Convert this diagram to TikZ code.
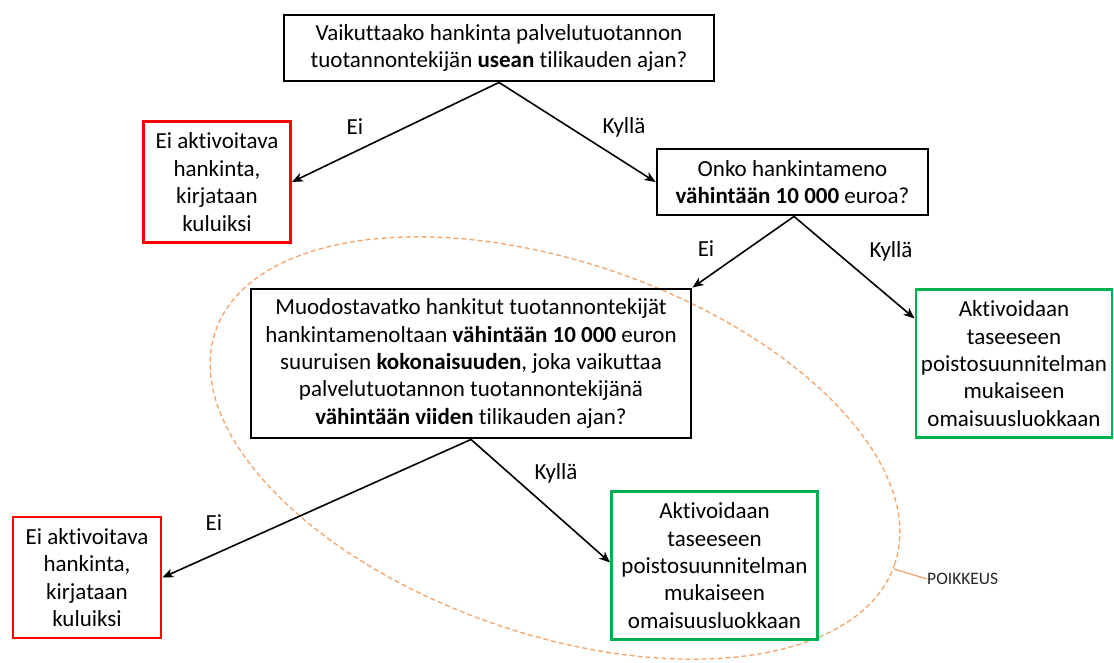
\documentclass[tikz,border=0pt]{standalone}
\usepackage{fontspec}
\setmainfont[Ligatures=NoCommon]{Carlito}
\usetikzlibrary{arrows.meta,calc}
\definecolor{boxred}{RGB}{255,0,0}
\definecolor{boxgreen}{RGB}{0,176,80}
\definecolor{dashorange}{RGB}{244,164,106}
\begin{document}
\begin{tikzpicture}[x=1pt,y=-1pt,
  txt/.style={font=\fontsize{23}{27.4}\selectfont},
  base/.style={txt, draw, line width=2.9pt, align=center, inner sep=0pt},
  question/.style={base, draw=black},
  negative/.style={base, draw=boxred},
  positive/.style={base, draw=boxgreen},
  answer/.style={txt, inner sep=0pt},
  flow/.style={-{Stealth[length=11pt,width=9pt,inset=3pt]}, line width=1.6pt},
]
\useasboundingbox (0,0) rectangle (1114,662);

% exception area
\draw[dashorange, line width=1.3pt, dash pattern=on 5pt off 3pt]
  (555,448) ellipse [x radius=359pt, y radius=186pt, rotate=-19];
\coordinate (exc) at (894,569);
\node[anchor=west, inner sep=0pt, font=\fontsize{17.5}{20}\selectfont, text=black!85] (poik) at (927,579) {POIKKEUS};
\draw[dashorange, line width=1.3pt] (exc) -- (poik.west);

% decision boxes
\node[question, minimum width=430pt, minimum height=66pt] (q1) at (499,48)
  {Vaikuttaako hankinta palvelutuotannon\\tuotannontekijän \textbf{usean} tilikauden ajan?};
\node[negative, minimum width=147pt, minimum height=121pt] (no1) at (217,182)
  {Ei aktivoitava\\hankinta,\\kirjataan\\kuluiksi};
\node[question, minimum width=271pt, minimum height=66pt] (q2) at (792.5,182)
  {Onko hankintameno\\\textbf{vähintään 10 000} euroa?};
\node[question, minimum width=440pt, minimum height=149pt] (q3) at (471,363.5)
  {Muodostavatko hankitut tuotannontekijät\\hankintamenoltaan \textbf{vähintään 10 000} euron\\suuruisen \textbf{kokonaisuuden}, joka vaikuttaa\\palvelutuotannon tuotannontekijänä\\\textbf{vähintään viiden} tilikauden ajan?};
\node[positive, minimum width=196pt, minimum height=148pt] (yes2) at (1014,363.5)
  {Aktivoidaan\\taseeseen\\poistosuunnitelman\\mukaiseen\\omaisuusluokkaan};
\node[positive, minimum width=206pt, minimum height=148pt] (yes3) at (714.5,565.5)
  {Aktivoidaan\\taseeseen\\poistosuunnitelman\\mukaiseen\\omaisuusluokkaan};
\node[negative, minimum width=148pt, minimum height=121pt] (no3) at (87,577.5)
  {Ei aktivoitava\\hankinta,\\kirjataan\\kuluiksi};

% connectors
\draw[flow] (q1.south) -- (no1.east);
\draw[flow] (q1.south) -- (q2.west);
\draw[flow] ([xshift=1.5pt]q2.south) -- (q3.north east);
\draw[flow] ([xshift=1.5pt]q2.south) -- ([yshift=45pt]yes2.west);
\draw[flow] (q3.south) -- (no3.east);
\draw[flow] (q3.south) -- ([yshift=3pt]yes3.west);

% answer labels
\node[answer] (e1) at (355,127) {Ei};
\node[answer] (k1) at (624,127) {Kyllä};
\node[answer] (e2) at (706,249) {Ei};
\node[answer] (k2) at (891,251) {Kyllä};
\node[answer] (k3) at (556,473) {Kyllä};
\node[answer] (e3) at (214,523) {Ei};
\end{tikzpicture}
\end{document}
